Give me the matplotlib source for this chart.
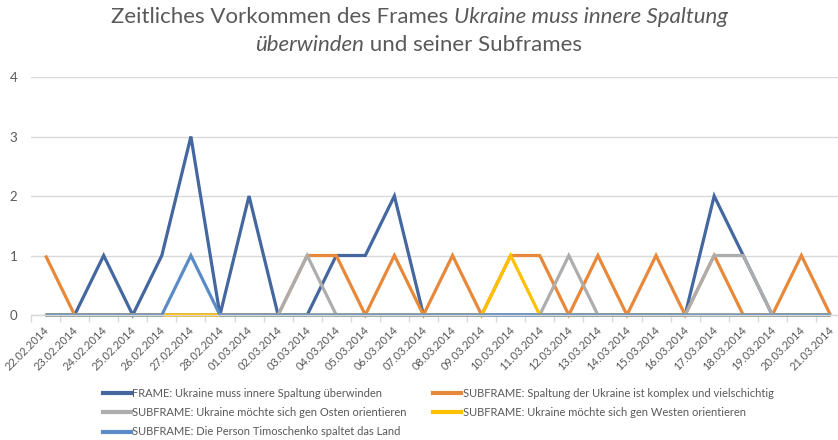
import matplotlib
matplotlib.use("Agg")
import matplotlib.pyplot as plt
from matplotlib.lines import Line2D
from matplotlib.offsetbox import TextArea, HPacker, VPacker, AnchoredOffsetbox

dates = ["22.02.2014", "23.02.2014", "24.02.2014", "25.02.2014", "26.02.2014",
         "27.02.2014", "28.02.2014", "01.03.2014", "02.03.2014", "03.03.2014",
         "04.03.2014", "05.03.2014", "06.03.2014", "07.03.2014", "08.03.2014",
         "09.03.2014", "10.03.2014", "11.03.2014", "12.03.2014", "13.03.2014",
         "14.03.2014", "15.03.2014", "16.03.2014", "17.03.2014", "18.03.2014",
         "19.03.2014", "20.03.2014", "21.03.2014"]

frame_spaltung = [0, 0, 1, 0, 1, 3, 0, 2, 0, 0, 1, 1, 2, 0, 0, 0, 0, 0, 0, 0, 0, 0, 0, 2, 1, 0, 0, 0]
sub_komplex    = [1, 0, 0, 0, 0, 0, 0, 0, 0, 1, 1, 0, 1, 0, 1, 0, 1, 1, 0, 1, 0, 1, 0, 1, 0, 0, 1, 0]
sub_osten      = [0, 0, 0, 0, 0, 0, 0, 0, 0, 1, 0, 0, 0, 0, 0, 0, 0, 0, 1, 0, 0, 0, 0, 1, 1, 0, 0, 0]
sub_westen     = [0, 0, 0, 0, 0, 0, 0, 0, 0, 0, 0, 0, 0, 0, 0, 0, 1, 0, 0, 0, 0, 0, 0, 0, 0, 0, 0, 0]
sub_timo       = [0, 0, 0, 0, 0, 1, 0, 0, 0, 0, 0, 0, 0, 0, 0, 0, 0, 0, 0, 0, 0, 0, 0, 0, 0, 0, 0, 0]

labels = ["FRAME: Ukraine muss innere Spaltung überwinden",
          "SUBFRAME: Spaltung der Ukraine ist komplex und vielschichtig",
          "SUBFRAME: Ukraine möchte sich gen Osten orientieren",
          "SUBFRAME: Ukraine möchte sich gen Westen orientieren",
          "SUBFRAME: Die Person Timoschenko spaltet das Land"]
colors = ["#43679E", "#E8883A", "#ADADAD", "#FFC000", "#5B8BC6"]
series = [frame_spaltung, sub_komplex, sub_osten, sub_westen, sub_timo]

FONT = "Lato"
TXT = "#595959"

fig = plt.figure(figsize=(8.38, 4.40), dpi=100)
W, H = 838, 440
left, right, bottom, top = 31, 845, 315, 77
ax = fig.add_axes([left / W, 1 - bottom / H, (right - left) / W, (bottom - top) / H])

x = list(range(len(dates)))
for vals, c in zip(series, colors):
    ax.plot(x, vals, color=c, lw=2.3, solid_joinstyle="miter", solid_capstyle="butt", clip_on=False)

ax.set_xlim(-0.5, len(dates) - 0.5)
ax.set_ylim(0, 4)
ax.set_yticks([0, 1, 2, 3, 4])
ax.grid(axis="y", color="#D9D9D9", lw=1)
ax.set_axisbelow(True)
for s in ["top", "right", "left"]:
    ax.spines[s].set_visible(False)
ax.spines["bottom"].set_color("#D9D9D9")
ax.spines["bottom"].set_linewidth(1)

ax.set_xticks([i - 0.5 for i in range(len(dates) + 1)])
ax.set_xticklabels([])
ax.tick_params(axis="x", length=5, color="#D9D9D9", width=1)
ax.tick_params(axis="y", length=0, labelsize=9.5, labelcolor=TXT, pad=10)
for t in ax.get_yticklabels():
    t.set_fontfamily(FONT)

for i, d in enumerate(dates):
    ax.annotate(d, xy=(i, 0), xycoords="data", xytext=(-1.5, -6.5), textcoords="offset points",
                rotation=45, ha="right", va="top", rotation_mode="anchor",
                fontsize=8.0, color=TXT, family=FONT)

# Title
fs = 16
props = dict(color=TXT, fontsize=fs, family=FONT)
row1 = HPacker(children=[TextArea("Zeitliches Vorkommen des Frames ", textprops=props),
                         TextArea("Ukraine muss innere Spaltung", textprops=dict(props, style="italic"))],
               pad=0, sep=0)
row2 = HPacker(children=[TextArea("überwinden", textprops=dict(props, style="italic")),
                         TextArea(" und seiner Subframes", textprops=props)], pad=0, sep=0)
col = VPacker(children=[row1, row2], align="center", pad=0, sep=6)
ab = AnchoredOffsetbox(loc="upper center", child=col, frameon=False,
                       bbox_to_anchor=(0.5, 1 - 7 / H), bbox_transform=fig.transFigure,
                       pad=0, borderpad=0)
fig.add_artist(ab)

handles = [Line2D([], [], color=c, lw=3) for c in colors]
order = [0, 2, 4, 1, 3]
leg = fig.legend([handles[i] for i in order], [labels[i] for i in order],
                 ncol=2, loc="upper left", bbox_to_anchor=(95 / W, 1 - 380 / H),
                 frameon=False, handlelength=2.5, handletextpad=0.15, columnspacing=2.4,
                 labelspacing=0.75, borderpad=0.2, prop=dict(family=FONT, size=8))
for t in leg.get_texts():
    t.set_color(TXT)

fig.savefig("out.png", dpi=100)
